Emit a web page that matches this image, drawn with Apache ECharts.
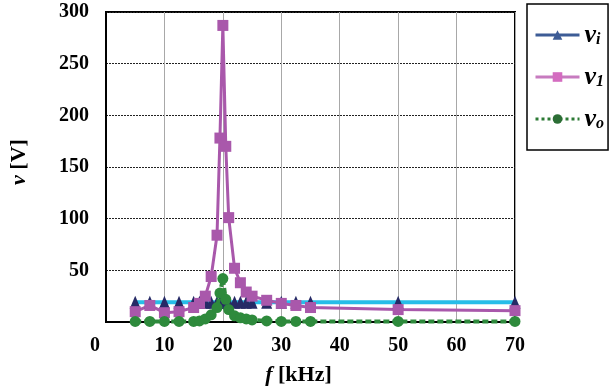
<!DOCTYPE html>
<html>
<head>
<meta charset="utf-8">
<script src="https://cdn.jsdelivr.net/npm/echarts@6/dist/echarts.min.js"></script>
<style>
  html, body { margin: 0; padding: 0; background: #fff; }
  #chart { width: 612px; height: 392px; }
</style>
</head>
<body>
<div id="chart"></div>
<script>
// frequency points [kHz]
const freq = [5, 7.5, 10, 12.5, 15, 16, 17, 18, 19, 19.5, 20, 20.5, 21, 22, 23, 24, 25, 27.5, 30, 32.5, 35, 50, 70];
// voltages [V]
const vi = [19, 19, 19, 19, 19, 19, 19, 19, 19, 19, 19, 19, 19, 19, 19, 19, 19, 19, 19, 19, 19, 19, 19];
const v1 = [10, 16, 9, 10, 14, 18, 25, 44, 84, 178, 287, 170, 101, 52, 38, 29, 25, 21, 18, 16, 14, 12, 11];
const vo = [0.5, 0.5, 0.5, 0.5, 0.5, 1, 3, 7, 14, 28, 42, 22, 12, 6, 4, 3, 2, 1, 0.5, 0.5, 0.5, 0.5, 0.5];
const xTicks = [0, 10, 20, 30, 40, 50, 60, 70];
const yTicks = [0, 50, 100, 150, 200, 250, 300];

const FONT = 'Liberation Serif';
const pairs = (ys) => freq.map((f, i) => [f, ys[i]]);

const chart = echarts.init(document.getElementById('chart'));

chart.setOption({
    animation: false,
    textStyle: { fontFamily: FONT },
    grid: {
        left: 104,
        right: 97,
        top: 12,
        bottom: 70,
        show: true,
        borderColor: '#000',
        borderWidth: 2
    },
    legend: {
        orient: 'vertical',
        left: 527,
        top: 4,
        width: 84,
        height: 136,
        padding: [18, 4, 18, 7],
        itemGap: 16,
        itemWidth: 44,
        itemHeight: 12,
        borderColor: '#000',
        borderWidth: 1.5,
        data: [
            { name: 'vi', itemStyle: { color: '#3d5c96' }, lineStyle: { color: '#3d5c96', width: 3 } },
            { name: 'v1', itemStyle: { color: '#d46cc0' }, lineStyle: { color: '#c77bbf', width: 3 } },
            { name: 'vo', itemStyle: { color: '#2c6e35' }, lineStyle: { color: '#2c7a35', width: 3, type: 'dotted' } }
        ],
        formatter: (name) => '{v|v}{s|' + name.slice(1) + '}',
        textStyle: {
            rich: {
                v: { fontFamily: FONT, fontSize: 26, fontWeight: 'bold', fontStyle: 'italic', color: '#000', lineHeight: 26, verticalAlign: 'bottom' },
                s: { fontFamily: FONT, fontSize: 16, fontWeight: 'bold', fontStyle: 'italic', color: '#000', lineHeight: 14, verticalAlign: 'bottom' }
            }
        }
    },
    xAxis: {
        type: 'value',
        min: 0,
        max: 70,
        interval: 10,
        name: '{i|f} [kHz]',
        nameLocation: 'middle',
        nameGap: 42,
        nameTextStyle: {
            fontFamily: FONT, fontSize: 22, fontWeight: 'bold', color: '#000',
            padding: [0, 24, 0, 0],
            rich: { i: { fontFamily: FONT, fontSize: 22, fontWeight: 'bold', fontStyle: 'italic', color: '#000' } }
        },
        axisLine: { show: true, lineStyle: { color: '#000', width: 2 } },
        axisTick: { show: false },
        axisLabel: {
            margin: 14,
            fontFamily: FONT, fontSize: 20, fontWeight: 'bold', color: '#000',
            formatter: (v) => (v === 0 ? '{z|0}' : String(v)),
            rich: { z: { fontFamily: FONT, fontSize: 20, fontWeight: 'bold', color: '#000', padding: [0, 22, 0, 0] } }
        },
        splitLine: { show: true, lineStyle: { color: '#a8a8a8', width: 1 } }
    },
    yAxis: {
        type: 'value',
        min: 0,
        max: 300,
        interval: 50,
        name: '{i|v} [V]',
        nameLocation: 'middle',
        nameGap: 76,
        nameTextStyle: {
            fontFamily: FONT, fontSize: 22, fontWeight: 'bold', color: '#000',
            padding: [0, 0, 0, 10],
            rich: { i: { fontFamily: FONT, fontSize: 22, fontWeight: 'bold', fontStyle: 'italic', color: '#000' } }
        },
        axisLine: { show: true, lineStyle: { color: '#000', width: 2 } },
        axisTick: { show: false },
        axisLabel: {
            margin: 17,
            fontFamily: FONT, fontSize: 20, fontWeight: 'bold', color: '#000',
            formatter: (v) => (yTicks.indexOf(v) > 0 ? String(v) : '')
        },
        splitLine: { show: true, lineStyle: { color: '#222', width: 1.2, type: [2, 1] } }
    },
    series: [
        {
            name: 'vi',
            type: 'line',
            data: pairs(vi),
            symbol: 'triangle',
            symbolSize: [11, 13],
            itemStyle: { color: '#262a66' },
            lineStyle: { color: '#27bde8', width: 4 }
        },
        {
            name: 'v1',
            type: 'line',
            data: pairs(v1),
            symbol: 'rect',
            symbolSize: 11,
            itemStyle: { color: '#a958ab' },
            lineStyle: { color: '#a958ab', width: 3 }
        },
        {
            name: 'vo',
            type: 'line',
            clip: false,
            z: 5,
            data: pairs(vo),
            symbol: 'circle',
            symbolSize: 11,
            itemStyle: { color: '#2e8a3c' },
            lineStyle: { color: '#2e8a3c', width: 4, type: [6, 3] }
        }
    ]
});
</script>
</body>
</html>
